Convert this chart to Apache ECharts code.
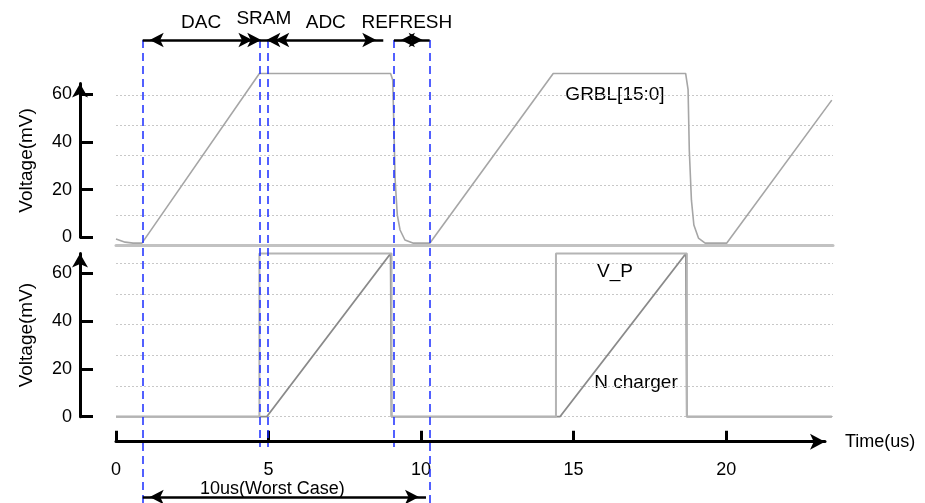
<!DOCTYPE html>
<html>
<head>
<meta charset="utf-8">
<script src="https://cdn.jsdelivr.net/npm/echarts@6/dist/echarts.min.js"></script>
<style>
html, body { margin: 0; padding: 0; background: #fff; }
#chart { width: 925px; height: 503px; }
</style>
</head>
<body>
<div id="chart"></div>
<script>
// GRBL[15:0] trace (time in us, voltage in mV)
var grblTime = [0, 0.3, 0.56, 0.85, 4.70, 9.00, 9.07, 9.11, 9.15, 9.22, 9.31, 9.47, 9.73, 10.29, 14.33, 18.67, 18.75, 18.79, 18.86, 18.94, 19.09, 19.31, 20.02, 23.46];
var grblVolt = [-0.7, -2.0, -2.4, -2.4, 68.8, 68.8, 66, 45, 24, 9.4, 3.1, -1.1, -2.4, -2.4, 68.8, 68.8, 62, 36.6, 15.6, 5.2, -0.3, -2.4, -2.4, 57.6];

// V_P pulse
var vpTime = [0, 4.70, 4.70, 9.03, 9.03, 14.42, 14.42, 18.71, 18.71, 23.46];
var vpVolt = [0, 0, 68.3, 68.3, 0, 0, 68.3, 68.3, 0, 0];

// N charger ramp
var nchTime = [0, 4.94, 9.00, 9.03, 14.55, 18.68, 18.71, 23.46];
var nchVolt = [0, 0, 68.3, 0, 0, 68.3, 0, 0];

var timeTicks = [0, 5, 10, 15, 20];
var voltTicks = [0, 20, 40, 60];

// phase boundaries (blue dashed guides) and arrows
var guideTimes = [0.875, 4.70, 4.99, 9.11, 10.28];
var longGuides = [0, 4];
var phaseNames = ['DAC', 'SRAM', 'ADC', 'REFRESH'];
var phaseStart = [0.875, 4.70, 4.99, 9.11];
var phaseEnd = [4.70, 4.99, 8.76, 10.28];
var worstCase = [0.875, 10.16];
var worstLabel = '10us(Worst Case)';

var FONT = 'Liberation Sans, Arial, sans-serif';

function pairs(t, v) {
    return t.map(function (x, i) { return [x, v[i]]; });
}

var chart = echarts.init(document.getElementById('chart'));

var hiddenAxis = function (grid, min, max) {
    return { gridIndex: grid, type: 'value', min: min, max: max, show: false };
};

var gridAux = function (grid) {
    return {
        gridIndex: grid, type: 'value', min: 0, max: 5, interval: 1,
        axisLine: { show: false }, axisTick: { show: false }, axisLabel: { show: false },
        splitLine: { show: true, lineStyle: { color: '#c8c8c8', width: 1, type: [2, 2] } }
    };
};

var voltAxis = function (grid, max) {
    return {
        gridIndex: grid, type: 'value', min: 0, max: max, position: 'left',
        name: 'Voltage(mV)', nameLocation: 'middle', nameGap: 44, nameRotate: 90,
        nameTextStyle: { fontFamily: FONT, fontSize: 19, color: '#000' },
        axisLine: {
            show: true, onZero: false, symbol: ['none', 'arrow'], symbolSize: [12, 14],
            lineStyle: { color: '#000', width: 3 }
        },
        axisTick: { show: true, inside: true, length: 13, customValues: voltTicks, lineStyle: { color: '#000', width: 3 } },
        axisLabel: { show: true, margin: 8, customValues: voltTicks, fontFamily: FONT, fontSize: 18, color: '#000' },
        splitLine: { show: false }
    };
};

var guideLines = guideTimes.map(function (t, i) {
    return [
        { xAxis: t, y: 40 },
        { xAxis: t, y: longGuides.indexOf(i) >= 0 ? 503 : 447 }
    ];
});

var phaseArrows = phaseNames.map(function (name, i) {
    var item = { name: name, xAxis: phaseStart[i], y: 40 };
    if (name === 'SRAM') item.label = { distance: 12 };
    if (name === 'REFRESH') item.label = { padding: [0, 10, 0, 0] };
    return [item, { xAxis: phaseEnd[i], y: 40 }];
});
phaseArrows.push([
    { name: worstLabel, xAxis: worstCase[0], y: 497, label: { distance: -1, padding: [0, 24, 0, 0], fontSize: 18 } },
    { xAxis: worstCase[1], y: 497 }
]);

chart.setOption({
    animation: false,
    backgroundColor: '#fff',
    textStyle: { fontFamily: FONT },
    grid: [
        { left: 116, right: 92, top: 95, bottom: 258 },       // top traces
        { left: 80, width: 1, top: 83.5, bottom: 265.7 },     // top voltage axis
        { left: 116, right: 92, top: 263.3, bottom: 86.3 },   // bottom traces
        { left: 80, width: 1, top: 253.5, bottom: 86.3 },     // bottom voltage axis
        { left: 116, right: 100, top: 400, bottom: 61.3 }     // time axis
    ],
    xAxis: [
        {
            gridIndex: 0, type: 'value', min: 0, max: 23.5,
            axisLine: { show: true, onZero: false, lineStyle: { color: '#c2c2c2', width: 3 } },
            axisTick: { show: false }, axisLabel: { show: false }, splitLine: { show: false }
        },
        hiddenAxis(1, 0, 1),
        hiddenAxis(2, 0, 23.5),
        hiddenAxis(3, 0, 1),
        {
            gridIndex: 4, type: 'value', min: 0, max: 23.24,
            name: 'Time(us)', nameLocation: 'end', nameGap: 20,
            nameTextStyle: { fontFamily: FONT, fontSize: 18, color: '#000', verticalAlign: 'middle', padding: [8, 0, 0, 0] },
            axisLine: {
                show: true, onZero: false, symbol: ['none', 'arrow'], symbolSize: [12, 15],
                lineStyle: { color: '#000', width: 3 }
            },
            axisTick: { show: true, inside: true, length: 11, customValues: timeTicks, lineStyle: { color: '#000', width: 3 } },
            axisLabel: { show: true, margin: 19, customValues: timeTicks, fontFamily: FONT, fontSize: 18, color: '#000' },
            splitLine: { show: false }
        }
    ],
    yAxis: [
        hiddenAxis(0, -3.2, 59.75),
        gridAux(0),
        voltAxis(1, 64.5),
        hiddenAxis(2, 0, 64.2),
        gridAux(2),
        voltAxis(3, 68.3),
        hiddenAxis(4, 0, 1)
    ],
    series: [
        {
            name: 'GRBL[15:0]', type: 'line', xAxisIndex: 0, yAxisIndex: 0, clip: false,
            showSymbol: false, data: pairs(grblTime, grblVolt),
            lineStyle: { color: '#a6a6a6', width: 1.6 }
        },
        {
            name: 'N charger', type: 'line', xAxisIndex: 2, yAxisIndex: 3, clip: false,
            showSymbol: false, data: pairs(nchTime, nchVolt),
            lineStyle: { color: '#8a8a8a', width: 1.8 }
        },
        {
            name: 'V_P', type: 'line', xAxisIndex: 2, yAxisIndex: 3, clip: false,
            showSymbol: false, data: pairs(vpTime, vpVolt),
            lineStyle: { color: '#b4b4b4', width: 2 }
        },
        {
            name: 'guides', type: 'line', xAxisIndex: 0, yAxisIndex: 0, clip: false, data: [],
            markLine: {
                silent: true, animation: false, symbol: 'none',
                label: { show: false },
                lineStyle: { color: '#1a2cff', width: 1.5, type: [8, 5] },
                data: guideLines
            }
        },
        {
            name: 'phases', type: 'line', xAxisIndex: 0, yAxisIndex: 0, clip: false, data: [],
            markLine: {
                silent: true, animation: false,
                symbol: ['arrow', 'arrow'], symbolSize: [11, 14],
                symbolOffset: [[0, 7], [0, 7]],
                lineStyle: { color: '#000', width: 2.5, type: 'solid' },
                label: {
                    show: true, position: 'middle', formatter: '{b}', distance: 8,
                    color: '#000', fontFamily: FONT, fontSize: 19
                },
                data: phaseArrows
            }
        }
    ],
    graphic: [
        { type: 'text', x: 615, y: 95, style: { text: 'GRBL[15:0]', font: '19px ' + FONT, fill: '#000', align: 'center', verticalAlign: 'middle' } },
        { type: 'text', x: 615, y: 272, style: { text: 'V_P', font: '19px ' + FONT, fill: '#000', align: 'center', verticalAlign: 'middle' } },
        { type: 'text', x: 636, y: 383, style: { text: 'N charger', font: '19px ' + FONT, fill: '#000', align: 'center', verticalAlign: 'middle' } }
    ]
});
</script>
</body>
</html>
